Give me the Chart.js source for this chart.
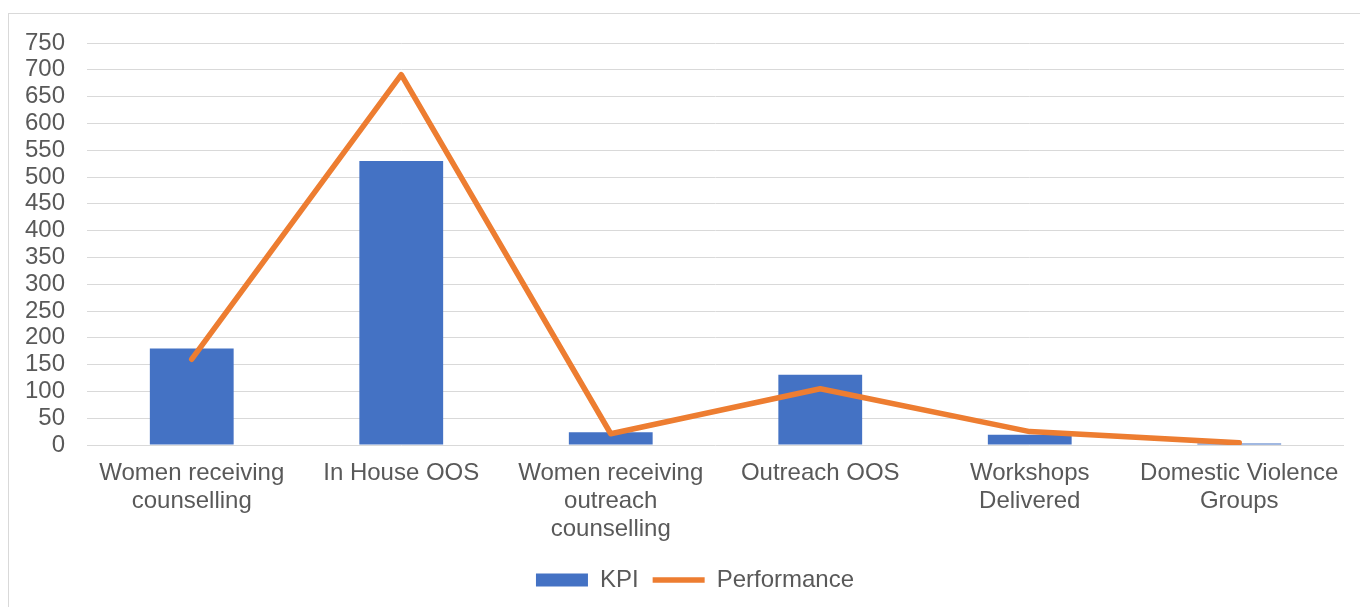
<!DOCTYPE html>
<html>
<head>
<meta charset="utf-8">
<script src="https://cdn.jsdelivr.net/npm/chart.js@4/dist/chart.umd.min.js"></script>
<style>
  html, body { margin: 0; padding: 0; background: #ffffff; }
  #wrap { position: relative; width: 1360px; height: 607px; }
  #frame { position: absolute; left: 8px; top: 13px; width: 1360px; height: 600px; border: 1px solid #d9d9d9; pointer-events: none; }
  canvas { position: absolute; left: 0; top: 0; }
</style>
</head>
<body>
<div id="wrap">
  <canvas id="c" width="1360" height="607"></canvas>
  <div id="frame"></div>
</div>
<script>
const categories = [
  ["Women receiving", "counselling"],
  ["In House OOS"],
  ["Women receiving", "outreach", "counselling"],
  ["Outreach OOS"],
  ["Workshops", "Delivered"],
  ["Domestic Violence", "Groups"]
];
const kpiValues = [180, 530, 24, 131, 19, 3];
const performanceValues = [160, 691, 21, 105, 25, 4];
const yTicks = [0, 50, 100, 150, 200, 250, 300, 350, 400, 450, 500, 550, 600, 650, 700, 750];

const textColor = '#595959';
const gridColor = '#d9d9d9';
const fontFamily = '"Liberation Sans", Arial, sans-serif';

const legendShift = {
  id: 'legendShift',
  afterLayout(chart) {
    const lg = chart.legend;
    if (lg) { lg.left += 23; lg.right += 23; }
  }
};

new Chart(document.getElementById('c'), {
  plugins: [legendShift],
  data: {
    labels: categories,
    datasets: [
      {
        type: 'bar',
        label: 'KPI',
        data: kpiValues,
        backgroundColor: '#4472C4',
        borderWidth: 0,
        barPercentage: 0.4,
        categoryPercentage: 1.0,
        pointStyle: 'rect',
        order: 2
      },
      {
        type: 'line',
        label: 'Performance',
        data: performanceValues,
        borderColor: '#ED7D31',
        backgroundColor: '#ED7D31',
        borderWidth: 5.5,
        borderCapStyle: 'round',
        borderJoinStyle: 'round',
        tension: 0,
        pointRadius: 0,
        pointHoverRadius: 0,
        pointStyle: 'line',
        fill: false,
        order: 1
      }
    ]
  },
  options: {
    responsive: false,
    animation: false,
    maintainAspectRatio: false,
    layout: { padding: { top: 43, right: 16, bottom: 5, left: 0 } },
    plugins: {
      tooltip: { enabled: false },
      legend: {
        position: 'bottom',
        labels: {
          usePointStyle: true,
          pointStyleWidth: 52,
          boxHeight: 13,
          padding: 14,
          color: textColor,
          font: { family: fontFamily, size: 24 },
          sort: (a, b) => a.datasetIndex - b.datasetIndex
        }
      }
    },
    scales: {
      x: {
        grid: { display: false, drawTicks: false },
        border: { display: false },
        ticks: {
          color: textColor,
          font: { family: fontFamily, size: 24, lineHeight: 1.15 },
          maxRotation: 0,
          minRotation: 0,
          autoSkip: false,
          padding: 15
        },
        afterFit: (scale) => { scale.height = 109; }
      },
      y: {
        min: 0,
        max: 750,
        afterBuildTicks: (scale) => { scale.ticks = yTicks.map(v => ({ value: v })); },
        grid: { color: gridColor, lineWidth: 1, drawTicks: false },
        border: { display: false },
        ticks: {
          color: textColor,
          font: { family: fontFamily, size: 24 },
          padding: 22,
          autoSkip: false
        },
        afterFit: (scale) => { scale.width = 87; }
      }
    }
  }
});
</script>
</body>
</html>
